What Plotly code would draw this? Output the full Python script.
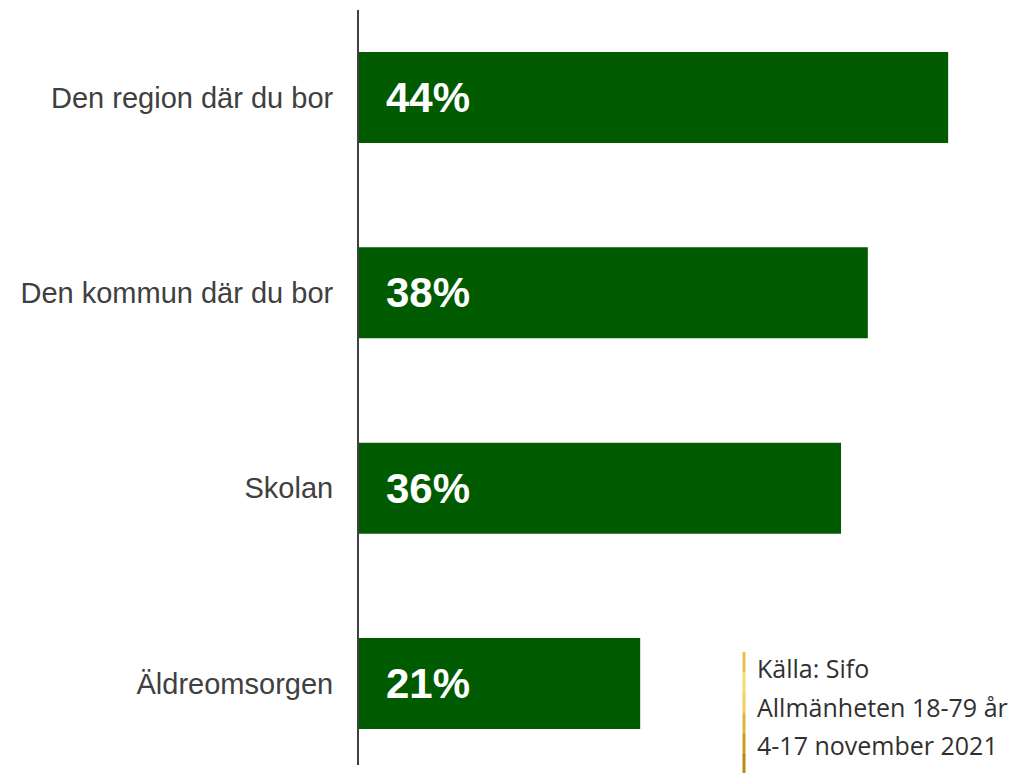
import plotly.graph_objects as go

categories = ["Den region där du bor", "Den kommun där du bor", "Skolan", "Äldreomsorgen"]
values = [44, 38, 36, 21]
labels = ["44%", "38%", "36%", "21%"]
source_lines = ["Källa: Sifo", "Allmänheten 18-79 år", "4-17 november 2021"]

OFF = 8  # page body margin
W, H = 1020, 774
L, T = 359 - OFF, 10 - OFF
pw, ph = 641, 755
R, B = W - L - pw, H - T - ph

fig = go.Figure()
fig.add_trace(go.Bar(
    y=categories, x=values, orientation="h",
    marker=dict(color="#005A00", line=dict(width=0)),
    width=0.466, hoverinfo="skip",
))

for c, lab in zip(categories, labels):
    fig.add_annotation(x=0, y=c, xref="x", yref="y", text=lab, showarrow=False,
                       xanchor="left", yanchor="middle", xshift=25,
                       font=dict(family="Liberation Sans, Arial", size=42, color="white", weight="bold"))

def px(xp):
    return (xp - OFF - L) / pw
def py(yp):
    return 1 - (yp - OFF - T) / ph

ys = [668, 707, 745]
for s, yy in zip(source_lines, ys):
    fig.add_annotation(x=px(755), y=py(yy), xref="paper", yref="paper", text=s, showarrow=False,
                       xanchor="left", yanchor="middle",
                       font=dict(family="Open Sans", size=25, color="#303030"))

golds = ["#e9c04a", "#f6da6a", "#f2d15c", "#e0b43a", "#cc9c20", "#bb8a12"]
y0 = 652
seg = (773 - 652) / len(golds)
for i, g in enumerate(golds):
    fig.add_shape(type="line", xref="paper", yref="paper",
                  x0=px(744), x1=px(744), y0=py(y0 + i * seg), y1=py(y0 + (i + 1) * seg),
                  line=dict(color=g, width=3))

fig.update_layout(
    width=W, height=H,
    margin=dict(l=L, r=R, t=T, b=B, pad=0),
    paper_bgcolor="white", plot_bgcolor="white",
    showlegend=False,
    xaxis=dict(range=[0, pw / 13.39], visible=False, showgrid=False, zeroline=False),
    yaxis=dict(type="category", categoryarray=categories, range=[3.417, -0.448],
               showline=True, linecolor="#404040", linewidth=2, ticks="",
               showgrid=False, zeroline=False, ticklabelstandoff=18,
               tickfont=dict(family="Liberation Sans, Arial", size=29, color="#404040")),
)

fig.write_html("out.html")
